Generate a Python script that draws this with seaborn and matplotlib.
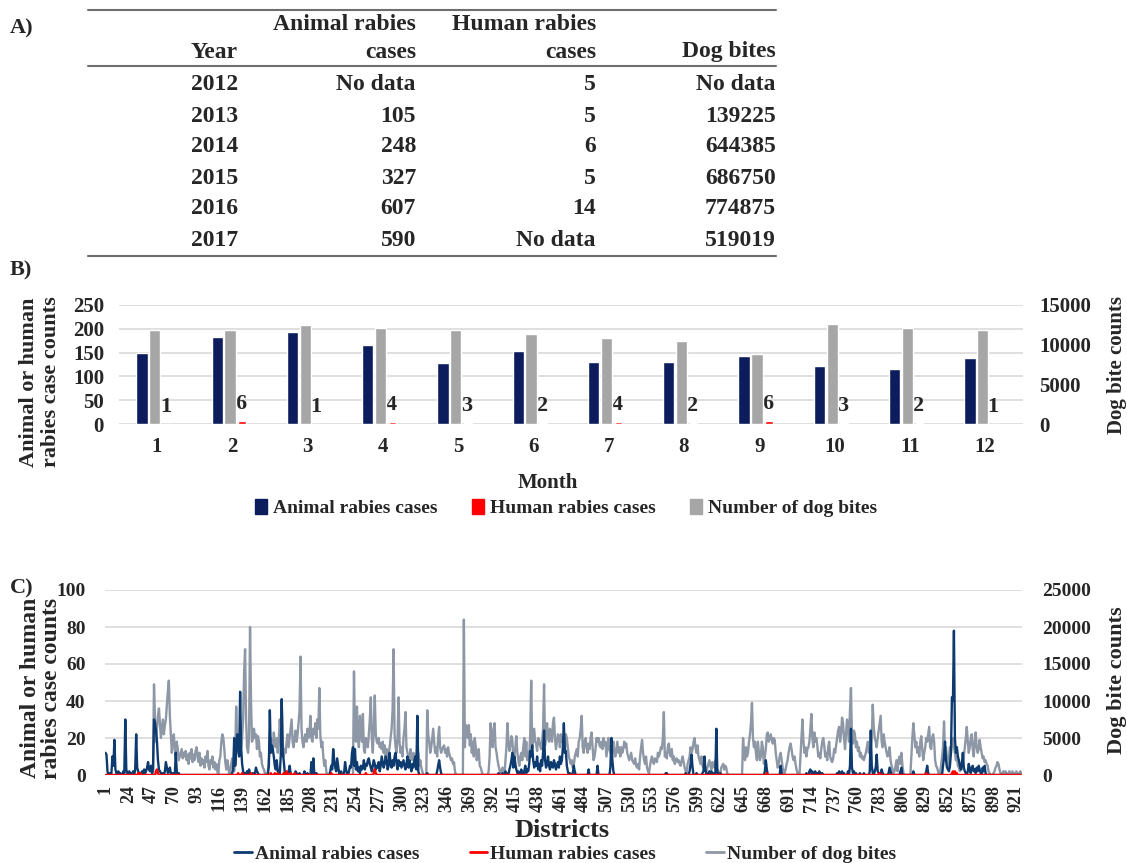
import numpy as np
import pandas as pd
import matplotlib
matplotlib.use("Agg")
import matplotlib.pyplot as plt
import seaborn as sns
from matplotlib.lines import Line2D
from matplotlib.patches import Patch

# ---------------- Panel A data (table) ----------------
years = ["2012", "2013", "2014", "2015", "2016", "2017"]
animal_year = ["No data", "105", "248", "327", "607", "590"]
human_year = ["5", "5", "6", "5", "14", "No data"]
dogbites_year = ["No data", "139225", "644385", "686750", "774875", "519019"]

# ---------------- Panel B data (monthly) ----------------
months = [1, 2, 3, 4, 5, 6, 7, 8, 9, 10, 11, 12]
animal_month = [150, 183, 194, 165, 129, 153, 131, 131, 142, 122, 116, 138]
human_month = [1, 6, 1, 4, 3, 2, 4, 2, 6, 3, 2, 1]
dog_month = [11900, 11800, 12500, 12150, 11850, 11300, 10800, 10450, 8800, 12650, 12050, 11900]

# ---------------- Panel C data (districts) ----------------
dog_district = [
    0, 0, 0, 0, 0, 0, 0, 0, 0, 0,
    0, 0, 0, 0, 0, 0, 0, 0, 0, 0,
    0, 0, 0, 0, 0, 0, 0, 0, 0, 0,
    0, 0, 0, 0, 0, 0, 0, 0, 0, 0,
    0, 0, 0, 0, 0, 0, 0, 0, 500, 12250,
    7500, 4500, 6250, 8000, 9000, 7000, 5000, 6250, 7500, 5500,
    6750, 7500, 9500, 11250, 12750, 8000, 5500, 3000, 4500, 5500,
    3500, 2500, 4500, 3500, 2000, 2500, 3000, 3500, 2250, 3000,
    2500, 3250, 2000, 2750, 1500, 3000, 2250, 3500, 1750, 2750,
    2000, 3250, 3750, 2500, 1750, 3000, 1250, 2250, 1500, 2000,
    1000, 2500, 1750, 3250, 1250, 750, 2000, 1500, 2500, 1000,
    1750, 750, 1500, 500, 0, 2000, 2500, 4500, 5500, 5000,
    3500, 1750, 750, 2000, 1250, 0, 250, 1500, 2250, 1000,
    500, 2500, 9250, 5000, 3000, 4500, 5500, 3750, 5000, 7500,
    13750, 17000, 7500, 3750, 3000, 5000, 20000, 10000, 4500, 5000,
    6250, 5000, 5500, 3500, 5250, 4500, 2500, 3000, 1500, 1000,
    750, 250, 0, 0, 500, 2000, 3750, 5000, 4250, 3500,
    5750, 4500, 3750, 5000, 3000, 4500, 7500, 5500, 10000, 4500,
    2500, 3500, 3000, 4500, 5500, 3750, 5000, 6250, 7500, 4500,
    3750, 5000, 6000, 4500, 5500, 7000, 8750, 16000, 6250, 4500,
    3750, 5000, 5500, 4500, 6250, 5000, 5500, 8000, 5000, 4500,
    6250, 5500, 7000, 5000, 7500, 6250, 11750, 5500, 3750, 4500,
    2500, 1250, 2000, 500, 0, 0, 0, 0, 0, 0,
    0, 0, 0, 0, 0, 0, 0, 0, 0, 0,
    0, 0, 0, 0, 0, 0, 0, 0, 0, 0,
    0, 14000, 5500, 4500, 9250, 5000, 3750, 8000, 6250, 4500,
    8250, 3500, 3000, 5000, 4500, 3750, 5500, 7500, 10500, 5000,
    3000, 6250, 10750, 5500, 4500, 4250, 5000, 3750, 4250, 3500,
    4500, 3000, 4000, 2500, 3500, 2250, 3000, 3750, 5000, 6250,
    8750, 17000, 5500, 3750, 3000, 5000, 10500, 4500, 3000, 3750,
    2500, 5000, 6250, 8500, 3750, 3000, 2500, 2000, 3500, 2500,
    2000, 3000, 2250, 1750, 2500, 3500, 3000, 1250, 2000, 1000,
    500, 0, 0, 0, 0, 8750, 5500, 4500, 3000, 3750,
    5000, 6250, 4500, 3000, 3750, 2500, 5000, 6500, 3750, 3000,
    3500, 3750, 4000, 3000, 3500, 2500, 3750, 3000, 2500, 2000,
    2250, 1500, 1750, 500, 0, 0, 0, 0, 0, 0,
    0, 0, 21000, 3750, 6750, 6250, 5000, 6750, 4000, 5500,
    3000, 4500, 2500, 5000, 3750, 2000, 3000, 3500, 1250, 1000,
    500, 0, 0, 0, 0, 0, 0, 500, 2500, 7000,
    5000, 3750, 6250, 7000, 3750, 3000, 2000, 1250, 750, 0,
    500, 1000, 250, 0, 2000, 3750, 7000, 4500, 3250, 4000,
    5250, 4750, 2000, 2500, 3750, 5250, 3000, 2000, 1250, 2500,
    3000, 2000, 3750, 5000, 2500, 4500, 2000, 3000, 2500, 5500,
    12750, 3750, 5000, 6250, 4500, 4250, 3250, 5000, 4750, 4000,
    3500, 4500, 6250, 12250, 4000, 5500, 7000, 5000, 4500, 6250,
    5000, 4500, 7000, 7750, 5000, 3500, 4500, 5500, 5000, 3750,
    5500, 4500, 5000, 4000, 3000, 5500, 5000, 3750, 2500, 2000,
    1500, 2000, 1000, 1250, 2500, 3000, 3500, 2500, 4500, 5000,
    6250, 8000, 3750, 3000, 4500, 5000, 3750, 3000, 4250, 3500,
    5000, 5750, 3750, 2000, 2500, 3500, 5000, 4500, 5000, 4000,
    3750, 4500, 3500, 5000, 4000, 4500, 2500, 3750, 5000, 3500,
    3000, 5000, 3750, 4500, 3000, 2500, 3500, 4500, 3000, 3750,
    2500, 3750, 3000, 3500, 4500, 3750, 4250, 3000, 2500, 2000,
    2500, 3000, 2000, 1750, 1500, 2250, 1250, 1000, 1500, 750,
    2500, 3750, 4750, 3000, 2000, 1500, 2500, 1000, 500, 250,
    1250, 2000, 2500, 1750, 1500, 2250, 2000, 1750, 3000, 2500,
    3000, 3750, 3500, 5000, 8500, 2500, 3000, 2250, 3750, 4250,
    3000, 2500, 3500, 2000, 2500, 1500, 2000, 2250, 1750, 2000,
    1500, 1250, 2000, 2500, 1750, 1000, 500, 250, 1500, 2000,
    2500, 3750, 3000, 3500, 4500, 5000, 3750, 3000, 4000, 2500,
    2000, 1500, 2500, 1250, 1000, 1500, 750, 500, 1000, 1500,
    2000, 1250, 750, 1750, 1500, 1000, 2000, 1250, 750, 500,
    250, 0, 1000, 1250, 1500, 750, 1250, 1000, 250, 0,
    0, 0, 0, 0, 0, 0, 0, 0, 0, 0,
    0, 0, 0, 0, 5000, 3000, 2000, 3750, 2500, 3000,
    4500, 5500, 7000, 9750, 5000, 3750, 4500, 3000, 2000, 4500,
    3000, 2000, 2500, 4500, 3750, 1500, 2500, 3500, 5500, 5750,
    4500, 5000, 5500, 4750, 4250, 5000, 4750, 3000, 2000, 1000,
    1500, 2500, 3000, 2000, 1000, 500, 250, 750, 1500, 2000,
    3000, 3750, 4250, 3500, 2500, 2000, 2500, 1500, 750, 250,
    0, 0, 2500, 5000, 7500, 4500, 3000, 3750, 2500, 3500,
    3750, 4500, 6250, 8250, 5000, 3750, 5750, 4500, 5000, 4000,
    2500, 3000, 2250, 3500, 4500, 5000, 4000, 2500, 3000, 2000,
    3750, 4500, 2500, 2000, 1750, 2250, 3500, 3000, 4000, 5000,
    6000, 6500, 4500, 5500, 7750, 7000, 5000, 3500, 5500, 7500,
    6250, 4500, 8750, 11750, 5000, 4250, 6000, 5500, 3750, 4500,
    3250, 3750, 2500, 3000, 2250, 2500, 2000, 2500, 3000, 3750,
    4500, 3000, 3500, 3750, 5000, 9500, 6500, 5000, 4500, 3750,
    5000, 6000, 7000, 8000, 4500, 3750, 5500, 4500, 3750, 3000,
    2500, 3000, 3750, 2000, 1250, 750, 250, 500, 1250, 2000,
    500, 2000, 2500, 1500, 3000, 1250, 250, 0, 0, 0,
    0, 0, 0, 0, 2500, 5000, 7000, 5500, 3750, 4500,
    3000, 3750, 2500, 4500, 5250, 3500, 2000, 3000, 3750, 5000,
    4500, 5500, 6500, 3750, 3500, 5000, 5500, 4500, 2000, 1250,
    1000, 500, 0, 250, 1250, 2500, 3750, 7250, 3000, 3750,
    2000, 1000, 2500, 3750, 3000, 4500, 5000, 3750, 3000, 2000,
    2500, 1250, 1000, 500, 1000, 750, 1500, 2500, 3750, 5000,
    6500, 4500, 3000, 3750, 5000, 5500, 3500, 2500, 4500, 5750,
    3750, 3000, 3500, 4750, 3750, 3000, 2250, 2500, 1750, 2000,
    1500, 1250, 500, 250, 0, 0, 0, 250, 500, 1000,
    1250, 1750, 1500, 750, 250, 0, 250, 500, 250, 500,
    250, 0, 250, 500, 250, 0, 500, 250, 0, 250,
    500, 250, 0, 250, 500, 250,
]

animal_district = [
    12, 11, 2, 0, 1, 0, 1, 10, 5, 19,
    3, 1, 0, 2, 0, 1, 0, 0, 2, 1,
    30, 3, 1, 0, 2, 1, 0, 1, 2, 0,
    3, 22, 4, 2, 1, 0, 1, 2, 0, 3,
    1, 2, 4, 7, 3, 2, 5, 1, 3, 30,
    28, 24, 18, 8, 3, 2, 1, 0, 1, 0,
    2, 7, 4, 1, 2, 4, 1, 0, 1, 0,
    0, 12, 2, 0, 1, 0, 0, 0, 0, 0,
    0, 0, 0, 0, 0, 0, 0, 0, 0, 0,
    0, 0, 0, 0, 0, 0, 0, 0, 0, 0,
    0, 0, 0, 0, 0, 0, 0, 0, 0, 0,
    0, 0, 0, 0, 0, 0, 0, 0, 0, 0,
    0, 0, 0, 0, 0, 0, 0, 0, 1, 3,
    20, 5, 12, 22, 18, 10, 45, 15, 6, 2,
    0, 1, 0, 2, 0, 3, 1, 0, 0, 1,
    0, 1, 4, 2, 1, 0, 0, 0, 0, 0,
    0, 0, 0, 0, 0, 5, 35, 12, 16, 14,
    10, 5, 3, 8, 2, 1, 0, 10, 41, 12,
    8, 2, 1, 0, 1, 2, 5, 1, 0, 0,
    0, 0, 2, 1, 0, 0, 1, 0, 0, 0,
    0, 2, 0, 0, 1, 0, 0, 0, 7, 1,
    9, 0, 0, 1, 0, 0, 0, 0, 0, 0,
    0, 0, 0, 0, 0, 0, 0, 2, 5, 3,
    14, 8, 4, 2, 9, 5, 1, 0, 2, 0,
    0, 1, 7, 3, 1, 0, 2, 5, 4, 12,
    15, 5, 14, 3, 7, 2, 4, 1, 5, 3,
    4, 8, 3, 6, 5, 8, 9, 6, 4, 2,
    5, 8, 6, 3, 5, 4, 7, 2, 5, 10,
    7, 4, 6, 10, 8, 3, 5, 12, 6, 4,
    8, 5, 10, 12, 6, 3, 8, 5, 7, 4,
    6, 8, 5, 3, 6, 10, 4, 8, 5, 2,
    6, 4, 8, 10, 3, 32, 2, 0, 0, 0,
    0, 0, 0, 0, 0, 1, 0, 0, 0, 0,
    0, 0, 0, 0, 0, 2, 5, 8, 4, 1,
    0, 0, 0, 0, 0, 0, 0, 0, 0, 0,
    0, 0, 0, 0, 0, 0, 0, 0, 0, 0,
    0, 0, 0, 0, 0, 0, 0, 0, 0, 0,
    0, 0, 0, 0, 0, 0, 0, 0, 0, 0,
    0, 0, 0, 0, 0, 0, 0, 0, 0, 0,
    0, 0, 0, 0, 0, 0, 0, 1, 0, 0,
    0, 1, 0, 0, 2, 1, 0, 0, 3, 5,
    8, 12, 4, 10, 6, 3, 1, 2, 0, 1,
    3, 1, 0, 2, 5, 1, 3, 2, 6, 13,
    10, 16, 8, 4, 7, 5, 10, 3, 6, 2,
    8, 5, 12, 24, 8, 4, 6, 10, 5, 3,
    7, 5, 4, 8, 6, 3, 5, 7, 4, 10,
    6, 8, 15, 28, 12, 13, 5, 2, 0, 1,
    0, 0, 1, 5, 2, 0, 0, 0, 0, 0,
    0, 0, 0, 0, 0, 0, 0, 0, 3, 0,
    0, 0, 0, 0, 0, 0, 0, 5, 0, 0,
    0, 0, 0, 0, 0, 0, 0, 0, 0, 0,
    4, 20, 8, 2, 0, 0, 0, 0, 0, 0,
    0, 0, 0, 0, 0, 0, 0, 0, 0, 0,
    0, 0, 0, 0, 0, 0, 0, 0, 0, 0,
    0, 0, 0, 0, 0, 0, 0, 0, 0, 0,
    0, 0, 0, 0, 0, 0, 0, 0, 0, 0,
    0, 0, 0, 0, 0, 0, 1, 1, 0, 0,
    0, 0, 0, 0, 0, 0, 0, 0, 0, 0,
    0, 0, 0, 0, 0, 0, 1, 0, 0, 0,
    2, 6, 11, 4, 0, 0, 0, 1, 0, 0,
    0, 0, 0, 1, 2, 10, 3, 0, 0, 1,
    2, 1, 2, 1, 0, 1, 0, 25, 2, 0,
    0, 1, 0, 0, 0, 0, 0, 0, 0, 0,
    0, 0, 0, 0, 0, 0, 0, 0, 0, 0,
    0, 0, 0, 0, 0, 0, 0, 0, 0, 0,
    0, 0, 0, 0, 0, 0, 0, 0, 0, 0,
    0, 0, 0, 0, 0, 0, 2, 8, 3, 0,
    0, 0, 0, 0, 0, 0, 0, 0, 0, 0,
    0, 0, 5, 1, 0, 0, 0, 0, 0, 0,
    0, 0, 0, 0, 0, 0, 0, 0, 0, 0,
    0, 0, 0, 0, 0, 0, 0, 0, 1, 0,
    0, 2, 3, 1, 2, 0, 1, 2, 0, 1,
    0, 2, 1, 0, 1, 0, 0, 0, 0, 0,
    0, 0, 0, 0, 0, 0, 0, 0, 0, 1,
    0, 2, 0, 1, 2, 0, 1, 0, 0, 0,
    2, 0, 5, 25, 4, 1, 2, 0, 1, 0,
    0, 0, 1, 0, 0, 0, 1, 0, 0, 0,
    0, 0, 2, 24, 5, 1, 0, 2, 4, 11,
    2, 1, 0, 0, 3, 1, 0, 0, 0, 0,
    0, 1, 4, 2, 0, 0, 0, 0, 0, 0,
    0, 0, 0, 2, 4, 0, 0, 0, 0, 0,
    0, 0, 0, 0, 0, 0, 2, 0, 0, 0,
    0, 0, 0, 0, 0, 0, 0, 0, 0, 2,
    5, 1, 0, 0, 0, 0, 0, 0, 0, 0,
    0, 0, 0, 0, 0, 0, 5, 10, 18, 8,
    4, 3, 2, 5, 12, 42, 40, 78, 20, 12,
    15, 10, 8, 5, 3, 6, 12, 4, 2, 1,
    0, 2, 6, 3, 1, 4, 5, 2, 3, 1,
    4, 2, 5, 3, 1, 0, 4, 2, 5, 1,
    0, 0, 0, 0, 0, 0, 0, 0, 0, 0,
    0, 0, 0, 0, 0, 0, 0, 0, 0, 0,
    0, 0, 0, 0, 0, 0, 0, 0, 0, 0,
    0, 0, 0, 0, 0, 0,
]

# human rabies cases per district (districts not listed: 0)
human_district_cases = {34: 1, 36: 1, 52: 2, 53: 3, 54: 1, 135: 1, 139: 1, 148: 1,
                        168: 1, 172: 1, 175: 1, 181: 1, 184: 2, 188: 1, 192: 1,
                        229: 1, 264: 1, 272: 1, 273: 3, 274: 1, 669: 1, 783: 1,
                        830: 1, 856: 1, 857: 2, 859: 2, 861: 1}

# ---------------- Styling ----------------
sns.set_theme(style="white")
plt.rcParams["font.family"] = ["Liberation Serif", "DejaVu Serif"]
plt.rcParams["font.weight"] = "bold"
plt.rcParams["axes.labelweight"] = "bold"

NAVY = "#0c1c5c"
RED = "#ff0000"
GRAYBAR = "#a6a6a6"
BLUE_LINE = "#0d3b70"
GRAY_LINE = "#8d97a5"
GRID = "#d9d9d9"

W, H = 1127, 863
fig = plt.figure(figsize=(W / 100, H / 100), dpi=100)


def fx(x):
    return x / W


def fy(y):
    return 1 - y / H


# ---------------- Panel A: table ----------------
fig.text(fx(10), fy(28), "A)", fontsize=16, fontweight="bold", ha="left", va="center")
for ypx in (10, 66, 256):
    fig.add_artist(Line2D([fx(88), fx(776)], [fy(ypx), fy(ypx)], color="#6e6e6e", lw=1.5))
col_x = [238, 416, 596, 776]
fs_tab = 17
fig.text(fx(416), fy(25), "Animal rabies", fontsize=fs_tab, ha="right", va="center", fontweight="bold")
fig.text(fx(596), fy(25), "Human rabies", fontsize=fs_tab, ha="right", va="center", fontweight="bold")
for cx, t in zip(col_x, ["Year", "cases", "cases", "Dog bites"]):
    fig.text(fx(cx), fy(52), t, fontsize=fs_tab, ha="right", va="center", fontweight="bold")
row_y = [84, 116, 147, 178, 209, 240]
for ry, a, b, c, d in zip(row_y, years, animal_year, human_year, dogbites_year):
    for cx, t in zip(col_x, [a, b, c, d]):
        fig.text(fx(cx), fy(ry), t, fontsize=fs_tab, ha="right", va="center", fontweight="bold")

# ---------------- Panel B: monthly bars ----------------
fig.text(fx(10), fy(270), "B)", fontsize=16, fontweight="bold", ha="left", va="center")
bx0, bx1, by0, by1 = 119.4, 1022.6, 305, 424
axB = fig.add_axes([fx(bx0), fy(by1), (bx1 - bx0) / W, (by1 - by0) / H])
axB2 = axB.twinx()

dfB = pd.DataFrame({"month": months, "animal": animal_month,
                    "human": human_month, "dog": dog_month})
m = dfB["month"].to_numpy(dtype=float)
bw = 0.15
axB.bar(m - 0.20, dfB["animal"], width=bw, color=NAVY, zorder=3)
axB.bar(m + 0.13, dfB["human"], width=0.1, color=RED, zorder=3)
axB2.bar(m - 0.03, dfB["dog"], width=bw, color=GRAYBAR, zorder=3)
for mm, h in zip(m, dfB["human"]):
    axB.annotate(str(h), (mm + 0.11, h), xytext=(0, 5), textcoords="offset points",
                 ha="center", va="bottom", fontsize=16, fontweight="bold")

axB.set_xlim(0.5, 12.5)
axB.set_ylim(0, 250)
axB2.set_ylim(0, 15000)
axB.set_yticks([0, 50, 100, 150, 200, 250])
axB2.set_yticks([0, 5000, 10000, 15000])
axB.set_xticks(months)
axB.set_xticklabels([str(v) for v in months])
axB.grid(axis="y", color=GRID, lw=1.2, zorder=0)
axB.set_axisbelow(True)
for a in (axB, axB2):
    for s in a.spines.values():
        s.set_visible(False)
    a.tick_params(length=0, labelsize=15)
axB.tick_params(axis="y", pad=11)
axB2.tick_params(axis="y", pad=12)
axB.tick_params(axis="x", pad=9)
axB2.grid(False)
fig.text(fx(548), fy(483), "Month", fontsize=15, fontweight="bold", ha="center", va="center")
fig.text(fx(40), fy(382), "Animal or human\nrabies case counts", fontsize=16, fontweight="bold",
         rotation=90, ha="center", va="center", linespacing=1.1)
fig.text(fx(1117), fy(365), "Dog bite counts", fontsize=15, fontweight="bold",
         rotation=90, ha="center", va="center")
hB = [Patch(color=NAVY), Patch(color=RED), Patch(color=GRAYBAR)]
fig.legend(hB, ["Animal rabies cases", "Human rabies cases", "Number of dog bites"],
           loc="center", bbox_to_anchor=(fx(566), fy(508)), ncol=3, frameon=False,
           handlelength=0.6, handleheight=0.8, handletextpad=0.3,
           columnspacing=1.8, prop={"weight": "bold", "size": 14})

# ---------------- Panel C: districts lines ----------------
fig.text(fx(10), fy(588), "C)", fontsize=16, fontweight="bold", ha="left", va="center")
N = len(dog_district)
cx0, cx1, cy0, cy1 = 105, 105 + N * 0.99, 590, 775
axC = fig.add_axes([fx(cx0), fy(cy1), (cx1 - cx0) / W, (cy1 - cy0) / H])
axC2 = axC.twinx()
axC.set_zorder(axC2.get_zorder() + 1)
axC.patch.set_visible(False)

d_dog = np.arange(1, len(dog_district) + 1)
d_ani = np.arange(1, len(animal_district) + 1)
human_district = [human_district_cases.get(int(d), 0) for d in d_dog]

sns.lineplot(x=d_dog, y=dog_district, ax=axC2, color=GRAY_LINE, linewidth=1.7)
sns.lineplot(x=d_ani, y=animal_district, ax=axC, color=BLUE_LINE, linewidth=1.7)
sns.lineplot(x=d_dog, y=human_district, ax=axC, color=RED, linewidth=1.7)

axC.set_xlim(0.5, N + 0.5)
axC.set_ylim(0, 100)
axC2.set_ylim(0, 25000)
axC.set_yticks([0, 20, 40, 60, 80, 100])
axC2.set_yticks([0, 5000, 10000, 15000, 20000, 25000])
xt = list(range(1, N + 1, 23))
axC.set_xticks(xt)
axC.set_xticklabels([str(v) for v in xt], rotation=90)
axC2.grid(axis="y", color=GRID, lw=1.2)
axC2.set_axisbelow(True)
axC.grid(False)
for a in (axC, axC2):
    for s in a.spines.values():
        s.set_visible(False)
    a.tick_params(length=0, labelsize=14)
    a.set_xlabel("")
    a.set_ylabel("")
axC.tick_params(axis="x", labelsize=13, pad=7)
axC.tick_params(axis="y", pad=14)
axC2.tick_params(axis="y", pad=15)
fig.text(fx(562), fy(830), "Districts", fontsize=19, fontweight="bold", ha="center", va="center")
fig.text(fx(41), fy(688), "Animal or human\nrabies case counts", fontsize=17, fontweight="bold",
         rotation=90, ha="center", va="center", linespacing=1.05)
fig.text(fx(1117), fy(680), "Dog bite counts", fontsize=16, fontweight="bold",
         rotation=90, ha="center", va="center")
hC = [Line2D([], [], color=BLUE_LINE, lw=2), Line2D([], [], color=RED, lw=2),
      Line2D([], [], color=GRAY_LINE, lw=2)]
fig.legend(hC, ["Animal rabies cases", "Human rabies cases", "Number of dog bites"],
           loc="center", bbox_to_anchor=(fx(565), fy(854)), ncol=3, frameon=False,
           handlelength=0.9, handletextpad=0.15, columnspacing=2.6,
           prop={"weight": "bold", "size": 14})

fig.savefig("out.png", dpi=100)
